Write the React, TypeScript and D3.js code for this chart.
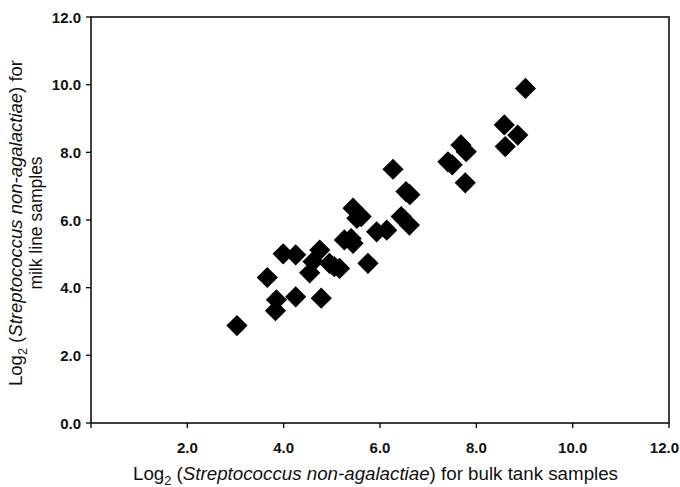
import React from "react";
import * as d3 from "d3";

const xValues = [3.03, 3.66, 3.85, 3.83, 4.25, 4.78, 3.99, 4.25, 4.54, 4.61, 4.75, 4.95, 5.16, 5.26, 5.05, 5.44, 5.40, 5.44, 5.61, 5.52, 5.75, 5.93, 6.14, 6.27, 6.54, 6.44, 6.61, 6.62, 7.41, 7.50, 7.68, 7.79, 7.77, 8.58, 8.86, 8.60, 9.02];
const yValues = [2.88, 4.30, 3.64, 3.32, 3.73, 3.69, 5.00, 4.97, 4.44, 4.77, 5.11, 4.72, 4.57, 5.41, 4.62, 5.31, 5.45, 6.35, 6.10, 6.05, 4.72, 5.65, 5.70, 7.50, 6.84, 6.10, 5.85, 6.75, 7.72, 7.63, 8.22, 8.02, 7.10, 8.81, 8.51, 8.17, 9.89];
const xTicks = [0, 2, 4, 6, 8, 10, 12];
const xTickLabels = ["", "2.0", "4.0", "6.0", "8.0", "10.0", "12.0"];
const yTicks = [0, 2, 4, 6, 8, 10, 12];
const yTickLabels = ["0.0", "2.0", "4.0", "6.0", "8.0", "10.0", "12.0"];

export default function App() {
  const W = 680, H = 487;
  const x = d3.scaleLinear().domain([0, 12]).range([91, 669]);
  const y = d3.scaleLinear().domain([0, 12]).range([423, 17]);
  const diamond = d3.symbol().type(d3.symbolSquare).size(225)();
  const font = "Arial, 'Liberation Sans', sans-serif";
  return (
    <svg width={W} height={H} style={{ position: "absolute", left: 0, top: 0, background: "#fff" }} fontFamily={font}>
      <rect x={0} y={0} width={W} height={H} fill="#fff" />
      <rect x={x(0)} y={y(12)} width={x(12) - x(0)} height={y(0) - y(12)} fill="none" stroke="#000" strokeWidth={1.5} />
      {xTicks.map((t, i) => {
        const last = i === xTicks.length - 1;
        return (
          <g key={"xt" + i}>
            <line x1={x(t)} x2={x(t)} y1={y(0)} y2={y(0) + 5} stroke="#000" strokeWidth={1.3} />
            <text x={last ? 679 : x(t)} y={453} textAnchor={last ? "end" : "middle"} fontSize={15} fontWeight="bold" fill="#111">{xTickLabels[i]}</text>
          </g>
        );
      })}
      {yTicks.map((t, i) => (
        <g key={"yt" + i}>
          <line x1={x(0) - 5} x2={x(0)} y1={y(t)} y2={y(t)} stroke="#000" strokeWidth={1.3} />
          <text x={81} y={y(t) + 5.5} textAnchor="end" fontSize={15} fontWeight="bold" fill="#111">{yTickLabels[i]}</text>
        </g>
      ))}
      {xValues.map((v, i) => (
        <path key={"p" + i} d={diamond} transform={`translate(${x(v)},${y(yValues[i])}) rotate(45)`} fill="#000" />
      ))}
      <text x={133} y={480} fontSize={17.5} fill="#111" textLength={485} lengthAdjust="spacingAndGlyphs">
        Log<tspan dy={5} fontSize={12}>2</tspan><tspan dy={-5}> (</tspan><tspan fontStyle="italic">Streptococcus non-agalactiae</tspan>) for bulk tank samples
      </text>
      <g transform="translate(22,223) rotate(-90)">
        <text x={0} y={0} textAnchor="middle" fontSize={17.5} fill="#111" textLength={326} lengthAdjust="spacingAndGlyphs">
          Log<tspan dy={5} fontSize={12}>2</tspan><tspan dy={-5}> (</tspan><tspan fontStyle="italic">Streptococcus non-agalactiae</tspan>) for
        </text>
        <text x={0} y={20} textAnchor="middle" fontSize={17.5} fill="#111">milk line samples</text>
      </g>
    </svg>
  );
}
